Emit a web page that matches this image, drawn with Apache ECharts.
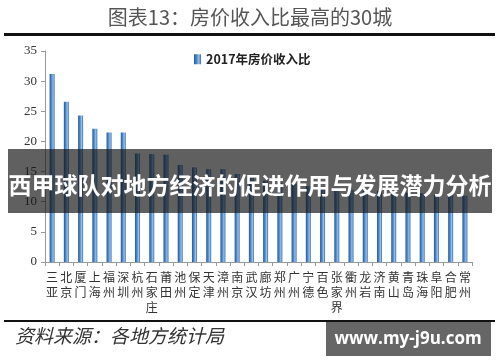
<!DOCTYPE html>
<html><head><meta charset="utf-8">
<script src="https://cdn.jsdelivr.net/npm/echarts@6/dist/echarts.min.js"></script>
<style>html,body{margin:0;padding:0;background:#fff}#c{width:500px;height:362px}</style>
</head><body><div id="c"></div>
<script>
const cities = ['三亚','北京','厦门','上海','福州','深圳','杭州','石家庄','莆田','池州','保定','天津','漳州','南京','武汉','廊坊','郑州','广州','宁德','百色','张家界','衢州','龙岩','济南','黄山','青岛','珠海','阜阳','合肥','常州'];
const ratio2017 = [31.2,26.6,24.3,22.1,21.5,21.5,18.0,17.9,17.8,16.1,15.7,15.4,15.4,14.6,14.0,13.5,13.2,13.0,12.6,12.4,12.3,12.0,11.9,11.8,11.7,11.5,11.4,11.3,11.1,11.0];
const yTicks = [0,5,10,15,20,25,30,35];
const seriesName = '2017年房价收入比';

const chart = echarts.init(document.getElementById('c'), null, {renderer:'canvas'});
const barColor = new echarts.graphic.LinearGradient(0,0,1,0,[
  {offset:0,color:'#1d5a9c'},{offset:0.45,color:'#5b93d3'},{offset:0.7,color:'#9cc0ea'},{offset:1,color:'#2c6db3'}]);
chart.setOption({
  animation:false,
  title:{text:'图表13：房价收入比最高的30城',left:'center',top:2,
    textStyle:{fontFamily:'Noto Sans CJK SC',fontSize:20,fontWeight:'normal',color:'#555'}},
  legend:{data:[seriesName],left:189,top:48,itemWidth:7,itemHeight:10,itemGap:4,
    icon:'rect',
    textStyle:{fontFamily:'Noto Sans CJK SC',fontSize:12.5,fontWeight:'bold',color:'#222'}},
  grid:{left:45,right:28,top:51,bottom:100,containLabel:false},
  xAxis:{type:'category',data:cities,
    axisLine:{lineStyle:{color:'#999'}},
    axisTick:{show:true,alignWithLabel:false,length:4,lineStyle:{color:'#999'}},
    axisLabel:{interval:0,margin:8,fontFamily:'Noto Sans CJK SC',fontSize:12,color:'#333',lineHeight:15,
      formatter:v=>v.split('').join('\n'),verticalAlign:'top'}},
  yAxis:{type:'value',min:0,max:35,interval:5,
    splitLine:{show:false},
    axisLine:{show:true,lineStyle:{color:'#999'}},
    axisTick:{show:true,length:4,lineStyle:{color:'#999'}},
    axisLabel:{margin:8,fontFamily:'Liberation Serif',fontSize:13,color:'#333',
      formatter:v=>yTicks.includes(v)?String(v):''}},
  series:[{name:seriesName,type:'bar',data:ratio2017,barWidth:5,
    itemStyle:{color:barColor}}],
  graphic:[
    {type:'rect',shape:{x:4,y:33,width:491,height:3},style:{fill:'#111'}},
    {type:'rect',shape:{x:4,y:320,width:491,height:2},style:{fill:'#111'}},
    {type:'text',left:15,top:326,style:{text:'资料来源：各地方统计局',fill:'#333',
      font:'italic 19px "Noto Sans CJK SC"'}},
    {type:'rect',shape:{x:8,y:149,width:484,height:64},style:{fill:'rgba(20,20,20,0.68)'},z:100},
    {type:'text',x:250,y:185,style:{text:'西甲球队对地方经济的促进作用与发展潜力分析',fill:'#fff',
      font:'bold 23px "Noto Sans CJK SC"',textAlign:'center',textVerticalAlign:'middle'},z:101},
    {type:'rect',shape:{x:326,y:322,width:165,height:34},style:{fill:'#666'},z:100},
    {type:'text',x:408,y:339,style:{text:'www.my-j9u.com',fill:'#fff',
      font:'bold 17px "Open Sans"',textAlign:'center',textVerticalAlign:'middle'},z:101}
  ]
});
</script></body></html>
